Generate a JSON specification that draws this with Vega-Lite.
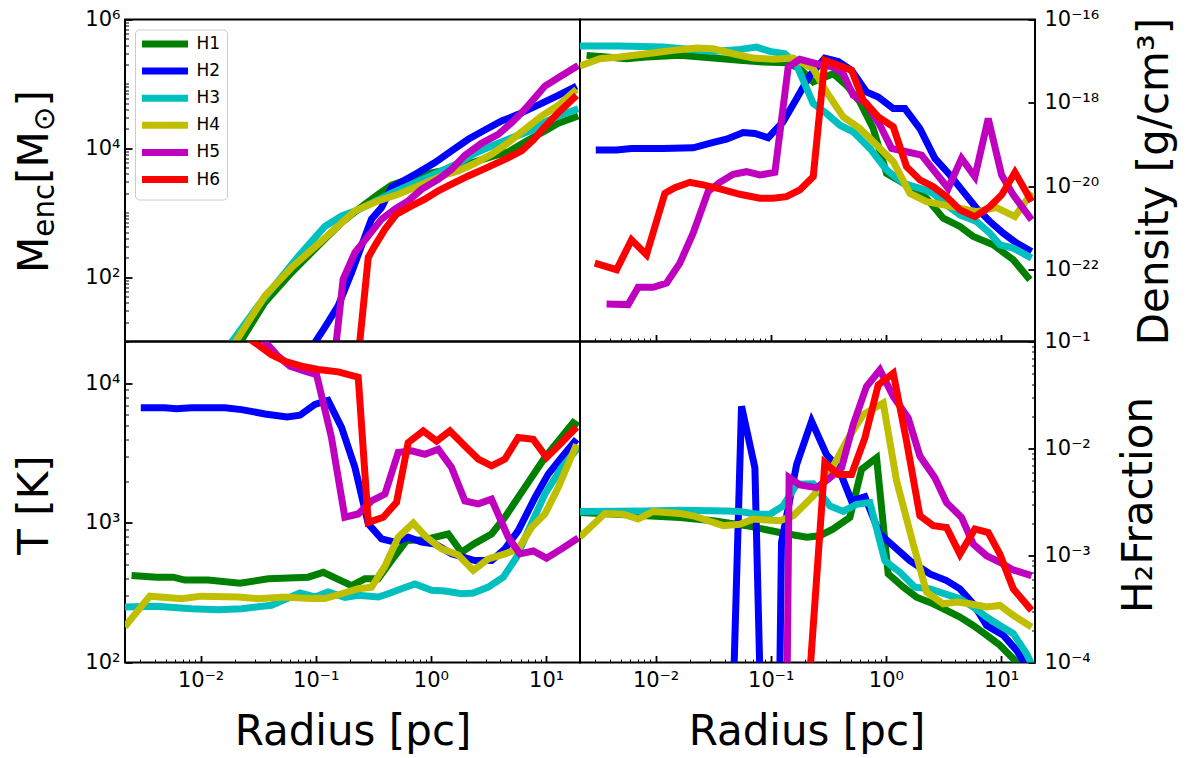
{
 "$schema": "https://vega.github.io/schema/vega-lite/v6.json",
 "background": "white",
 "padding": {"left": 11, "top": 7.5, "right": 5, "bottom": 2},
 "config": {
  "font": "DejaVu Sans",
  "view": {"stroke": "black", "strokeWidth": 2},
  "axis": {"domain": false, "grid": false, "labelFontSize": 21, "labelColor": "black", "titleFontSize": 42, "titleFontWeight": "normal", "titleColor": "black", "tickColor": "black", "zindex": 1, "labelFlush": false, "labelOverlap": false, "labelFont": "DejaVu Sans", "titleFont": "DejaVu Sans"},
  "line": {"strokeWidth": 7, "clip": true}
 },
 "datasets": {
  "menc": [
   {"h":"H1","r":0.0215,"v":9},{"h":"H1","r":0.0362,"v":40.5},{"h":"H1","r":0.0617,"v":118},{"h":"H1","r":0.105,"v":306},{"h":"H1","r":0.168,"v":704},{"h":"H1","r":0.234,"v":1133},{"h":"H1","r":0.349,"v":1935},{"h":"H1","r":0.455,"v":2670},{"h":"H1","r":0.635,"v":3303},{"h":"H1","r":0.887,"v":3953},{"h":"H1","r":1.239,"v":4454},{"h":"H1","r":1.727,"v":5322},{"h":"H1","r":2.41,"v":6140},{"h":"H1","r":3.36,"v":7427},{"h":"H1","r":4.69,"v":8770},{"h":"H1","r":7.0,"v":13460},{"h":"H1","r":9.77,"v":18570},{"h":"H1","r":12.76,"v":24430},{"h":"H1","r":19.0,"v":31720},
   {"h":"H2","r":0.096,"v":9},{"h":"H2","r":0.12,"v":16.6},{"h":"H2","r":0.157,"v":36},{"h":"H2","r":0.205,"v":118},{"h":"H2","r":0.25,"v":306},{"h":"H2","r":0.305,"v":793},{"h":"H2","r":0.373,"v":1202},{"h":"H2","r":0.455,"v":2455},{"h":"H2","r":0.776,"v":4198},{"h":"H2","r":1.084,"v":5998},{"h":"H2","r":1.511,"v":9095},{"h":"H2","r":2.11,"v":13800},{"h":"H2","r":2.94,"v":19250},{"h":"H2","r":4.11,"v":26530},{"h":"H2","r":5.73,"v":33650},{"h":"H2","r":9.14,"v":49860},{"h":"H2","r":12.76,"v":66370},{"h":"H2","r":18.4,"v":92500},
   {"h":"H3","r":0.018,"v":9},{"h":"H3","r":0.0317,"v":36},{"h":"H3","r":0.0705,"v":209},{"h":"H3","r":0.12,"v":611},{"h":"H3","r":0.168,"v":893},{"h":"H3","r":0.234,"v":1107},{"h":"H3","r":0.455,"v":2005},{"h":"H3","r":0.887,"v":3388},{"h":"H3","r":1.727,"v":5853},{"h":"H3","r":2.41,"v":8360},{"h":"H3","r":3.36,"v":10870},{"h":"H3","r":4.69,"v":13800},{"h":"H3","r":7.48,"v":19020},{"h":"H3","r":9.77,"v":25580},{"h":"H3","r":12.76,"v":31720},{"h":"H3","r":19.0,"v":41200},
   {"h":"H4","r":0.0195,"v":9},{"h":"H4","r":0.0362,"v":51},{"h":"H4","r":0.0617,"v":141},{"h":"H4","r":0.105,"v":325},{"h":"H4","r":0.157,"v":625},{"h":"H4","r":0.219,"v":1067},{"h":"H4","r":0.349,"v":1525},{"h":"H4","r":0.52,"v":1935},{"h":"H4","r":0.776,"v":2606},{"h":"H4","r":1.239,"v":3724},{"h":"H4","r":1.727,"v":4454},{"h":"H4","r":2.41,"v":5853},{"h":"H4","r":3.36,"v":8070},{"h":"H4","r":4.69,"v":12240},{"h":"H4","r":6.55,"v":19710},{"h":"H4","r":9.14,"v":31720},{"h":"H4","r":12.76,"v":46400},{"h":"H4","r":18.4,"v":82200},
   {"h":"H5","r":0.15,"v":9},{"h":"H5","r":0.173,"v":93},{"h":"H5","r":0.219,"v":241},{"h":"H5","r":0.286,"v":437},{"h":"H5","r":0.373,"v":793},{"h":"H5","r":0.487,"v":1133},{"h":"H5","r":0.635,"v":1525},{"h":"H5","r":0.83,"v":2312},{"h":"H5","r":1.159,"v":3303},{"h":"H5","r":1.511,"v":4721},{"h":"H5","r":1.973,"v":7786},{"h":"H5","r":2.754,"v":11960},{"h":"H5","r":3.844,"v":16480},{"h":"H5","r":5.02,"v":25000},{"h":"H5","r":6.55,"v":40260},{"h":"H5","r":9.77,"v":92500},{"h":"H5","r":12.76,"v":124700},{"h":"H5","r":19.0,"v":193600},
   {"h":"H6","r":0.24,"v":9},{"h":"H6","r":0.286,"v":202},{"h":"H6","r":0.326,"v":306},{"h":"H6","r":0.399,"v":555},{"h":"H6","r":0.503,"v":948},{"h":"H6","r":0.679,"v":1276},{"h":"H6","r":0.887,"v":1618},{"h":"H6","r":1.159,"v":2182},{"h":"H6","r":1.511,"v":2767},{"h":"H6","r":2.11,"v":3724},{"h":"H6","r":2.94,"v":4842},{"h":"H6","r":4.39,"v":6745},{"h":"H6","r":6.13,"v":9095},{"h":"H6","r":7.73,"v":13460},{"h":"H6","r":9.77,"v":21680},{"h":"H6","r":12.76,"v":35730},{"h":"H6","r":18.4,"v":66370}
  ],
  "dens": [
   {"h":"H1","r":0.00252,"v":1.38e-17},{"h":"H1","r":0.00376,"v":1.26e-17},{"h":"H1","r":0.0056,"v":1.15e-17},{"h":"H1","r":0.00835,"v":1.26e-17},{"h":"H1","r":0.01627,"v":1.38e-17},{"h":"H1","r":0.0317,"v":1.19e-17},{"h":"H1","r":0.054,"v":1.05e-17},{"h":"H1","r":0.0861,"v":9.55e-18},{"h":"H1","r":0.137,"v":9.2e-18},{"h":"H1","r":0.179,"v":6.62e-18},{"h":"H1","r":0.234,"v":3.18e-18},{"h":"H1","r":0.349,"v":5.03e-18},{"h":"H1","r":0.455,"v":2.64e-18},{"h":"H1","r":0.594,"v":1.06e-18},{"h":"H1","r":0.776,"v":2.43e-19},{"h":"H1","r":1.014,"v":2.05e-20},{"h":"H1","r":1.511,"v":1.08e-20},{"h":"H1","r":2.254,"v":5.17e-21},{"h":"H1","r":3.146,"v":1.72e-21},{"h":"H1","r":4.392,"v":1.09e-21},{"h":"H1","r":5.733,"v":6.26e-22},{"h":"H1","r":8.55,"v":3.96e-22},{"h":"H1","r":12.76,"v":1.73e-22},{"h":"H1","r":17.8,"v":5.77e-23},
   {"h":"H2","r":0.00303,"v":7.39e-20},{"h":"H2","r":0.00459,"v":7.39e-20},{"h":"H2","r":0.00619,"v":8.1e-20},{"h":"H2","r":0.01167,"v":8.1e-20},{"h":"H2","r":0.0212,"v":8.4e-20},{"h":"H2","r":0.0317,"v":1.13e-19},{"h":"H2","r":0.0413,"v":1.35e-19},{"h":"H2","r":0.0577,"v":1.95e-19},{"h":"H2","r":0.0729,"v":1.85e-19},{"h":"H2","r":0.0951,"v":1.46e-19},{"h":"H2","r":0.128,"v":3.51e-19},{"h":"H2","r":0.168,"v":1.27e-18},{"h":"H2","r":0.219,"v":4.58e-18},{"h":"H2","r":0.295,"v":1.19e-17},{"h":"H2","r":0.386,"v":9.9e-18},{"h":"H2","r":0.503,"v":6.04e-18},{"h":"H2","r":0.679,"v":1.83e-18},{"h":"H2","r":0.858,"v":1.39e-18},{"h":"H2","r":1.159,"v":7.32e-19},{"h":"H2","r":1.462,"v":7.32e-19},{"h":"H2","r":1.973,"v":2.43e-19},{"h":"H2","r":2.663,"v":4.67e-20},{"h":"H2","r":3.597,"v":1.87e-20},{"h":"H2","r":4.694,"v":7.46e-21},{"h":"H2","r":6.128,"v":2.98e-21},{"h":"H2","r":8.0,"v":1.43e-21},{"h":"H2","r":10.44,"v":7.52e-22},{"h":"H2","r":13.64,"v":4.34e-22},{"h":"H2","r":18.4,"v":2.74e-22},
   {"h":"H3","r":0.0022,"v":2.31e-17},{"h":"H3","r":0.0049,"v":2.31e-17},{"h":"H3","r":0.01167,"v":2.18e-17},{"h":"H3","r":0.0317,"v":1.72e-17},{"h":"H3","r":0.054,"v":1.92e-17},{"h":"H3","r":0.0753,"v":2.18e-17},{"h":"H3","r":0.0984,"v":1.72e-17},{"h":"H3","r":0.133,"v":1.51e-17},{"h":"H3","r":0.168,"v":7.95e-18},{"h":"H3","r":0.234,"v":9.64e-19},{"h":"H3","r":0.305,"v":5.56e-19},{"h":"H3","r":0.399,"v":2.92e-19},{"h":"H3","r":0.52,"v":2.03e-19},{"h":"H3","r":0.726,"v":8.1e-20},{"h":"H3","r":1.014,"v":2.46e-20},{"h":"H3","r":1.414,"v":1.18e-20},{"h":"H3","r":1.973,"v":8.96e-21},{"h":"H3","r":2.576,"v":6.81e-21},{"h":"H3","r":3.363,"v":3.58e-21},{"h":"H3","r":4.392,"v":2.06e-21},{"h":"H3","r":6.128,"v":1.43e-21},{"h":"H3","r":8.0,"v":7.52e-22},{"h":"H3","r":9.77,"v":3.96e-22},{"h":"H3","r":12.76,"v":3.3e-22},{"h":"H3","r":18.4,"v":1.9e-22},
   {"h":"H4","r":0.0022,"v":7.66e-18},{"h":"H4","r":0.00329,"v":1.15e-17},{"h":"H4","r":0.0049,"v":1.26e-17},{"h":"H4","r":0.00835,"v":1.51e-17},{"h":"H4","r":0.01424,"v":1.82e-17},{"h":"H4","r":0.0227,"v":2.07e-17},{"h":"H4","r":0.0317,"v":1.99e-17},{"h":"H4","r":0.0472,"v":1.51e-17},{"h":"H4","r":0.0705,"v":1.19e-17},{"h":"H4","r":0.105,"v":1.11e-17},{"h":"H4","r":0.157,"v":1.19e-17},{"h":"H4","r":0.234,"v":6.62e-18},{"h":"H4","r":0.305,"v":1.83e-18},{"h":"H4","r":0.426,"v":4.63e-19},{"h":"H4","r":0.594,"v":2.43e-19},{"h":"H4","r":0.83,"v":9.73e-20},{"h":"H4","r":1.159,"v":3.89e-20},{"h":"H4","r":1.615,"v":6.81e-21},{"h":"H4","r":2.254,"v":4.3e-21},{"h":"H4","r":3.146,"v":3.58e-21},{"h":"H4","r":4.392,"v":2.98e-21},{"h":"H4","r":6.128,"v":2.48e-21},{"h":"H4","r":9.14,"v":3.09e-21},{"h":"H4","r":13.19,"v":1.88e-21},{"h":"H4","r":18.53,"v":7.19e-21},
   {"h":"H5","r":0.00376,"v":1.51e-23},{"h":"H5","r":0.00579,"v":1.46e-23},{"h":"H5","r":0.00707,"v":3.78e-23},{"h":"H5","r":0.00955,"v":3.78e-23},{"h":"H5","r":0.01248,"v":4.8e-23},{"h":"H5","r":0.01627,"v":1.44e-22},{"h":"H5","r":0.0212,"v":7.52e-22},{"h":"H5","r":0.0286,"v":7.46e-21},{"h":"H5","r":0.0362,"v":1.25e-20},{"h":"H5","r":0.0472,"v":1.94e-20},{"h":"H5","r":0.0617,"v":2.24e-20},{"h":"H5","r":0.0805,"v":1.87e-20},{"h":"H5","r":0.1087,"v":2.16e-20},{"h":"H5","r":0.1419,"v":7.26e-18},{"h":"H5","r":0.179,"v":1.11e-17},{"h":"H5","r":0.25,"v":8.7e-18},{"h":"H5","r":0.349,"v":7.26e-18},{"h":"H5","r":0.426,"v":5.03e-18},{"h":"H5","r":0.52,"v":1.52e-18},{"h":"H5","r":0.679,"v":9.64e-19},{"h":"H5","r":0.887,"v":2.92e-19},{"h":"H5","r":1.12,"v":8.1e-20},{"h":"H5","r":1.511,"v":6.74e-20},{"h":"H5","r":2.04,"v":5.61e-20},{"h":"H5","r":2.663,"v":2.24e-20},{"h":"H5","r":3.476,"v":8.96e-21},{"h":"H5","r":4.54,"v":4.67e-20},{"h":"H5","r":5.925,"v":1.7e-20},{"h":"H5","r":7.734,"v":4.22e-19},{"h":"H5","r":10.1,"v":1.87e-20},{"h":"H5","r":12.76,"v":6.21e-21},{"h":"H5","r":18.4,"v":1.57e-21},
   {"h":"H6","r":0.00297,"v":1.44e-22},{"h":"H6","r":0.00459,"v":1.0e-22},{"h":"H6","r":0.00619,"v":5.21e-22},{"h":"H6","r":0.00835,"v":2.29e-22},{"h":"H6","r":0.01206,"v":6.81e-21},{"h":"H6","r":0.01472,"v":9.29e-21},{"h":"H6","r":0.01986,"v":1.25e-20},{"h":"H6","r":0.0259,"v":1.08e-20},{"h":"H6","r":0.0362,"v":8.64e-21},{"h":"H6","r":0.054,"v":6.44e-21},{"h":"H6","r":0.0805,"v":5.17e-21},{"h":"H6","r":0.105,"v":5.17e-21},{"h":"H6","r":0.137,"v":5.66e-21},{"h":"H6","r":0.179,"v":8.17e-21},{"h":"H6","r":0.234,"v":1.7e-20},{"h":"H6","r":0.295,"v":1.05e-17},{"h":"H6","r":0.386,"v":7.95e-18},{"h":"H6","r":0.503,"v":6.04e-18},{"h":"H6","r":0.635,"v":1.16e-18},{"h":"H6","r":0.858,"v":4.63e-19},{"h":"H6","r":1.159,"v":2.67e-19},{"h":"H6","r":1.511,"v":2.95e-20},{"h":"H6","r":1.973,"v":1.42e-20},{"h":"H6","r":2.576,"v":9.82e-21},{"h":"H6","r":3.363,"v":5.66e-21},{"h":"H6","r":4.392,"v":2.72e-21},{"h":"H6","r":5.925,"v":1.88e-21},{"h":"H6","r":8.0,"v":3.27e-21},{"h":"H6","r":10.1,"v":6.21e-21},{"h":"H6","r":13.19,"v":2.16e-20},{"h":"H6","r":18.4,"v":4.3e-21}
  ],
  "temp": [
   {"h":"H1","r":0.00252,"v":421},{"h":"H1","r":0.00415,"v":409},{"h":"H1","r":0.00579,"v":409},{"h":"H1","r":0.00731,"v":390},{"h":"H1","r":0.01167,"v":390},{"h":"H1","r":0.022,"v":370},{"h":"H1","r":0.0387,"v":398},{"h":"H1","r":0.0861,"v":409},{"h":"H1","r":0.1162,"v":443},{"h":"H1","r":0.205,"v":356},{"h":"H1","r":0.267,"v":398},{"h":"H1","r":0.349,"v":398},{"h":"H1","r":0.455,"v":538},{"h":"H1","r":0.615,"v":748},{"h":"H1","r":0.887,"v":760},{"h":"H1","r":1.414,"v":834},{"h":"H1","r":1.845,"v":617},{"h":"H1","r":2.41,"v":715},{"h":"H1","r":3.363,"v":834},{"h":"H1","r":4.392,"v":1100},{"h":"H1","r":6.549,"v":1800},{"h":"H1","r":9.772,"v":2950},{"h":"H1","r":17.2,"v":5240},{"h":"H1","r":19.0,"v":4960},
   {"h":"H2","r":0.00303,"v":6700},{"h":"H2","r":0.0049,"v":6700},{"h":"H2","r":0.00619,"v":6600},{"h":"H2","r":0.00835,"v":6700},{"h":"H2","r":0.01627,"v":6700},{"h":"H2","r":0.0227,"v":6500},{"h":"H2","r":0.0362,"v":6050},{"h":"H2","r":0.0565,"v":5750},{"h":"H2","r":0.0729,"v":5920},{"h":"H2","r":0.0984,"v":7080},{"h":"H2","r":0.128,"v":7560},{"h":"H2","r":0.168,"v":4820},{"h":"H2","r":0.219,"v":2500},{"h":"H2","r":0.286,"v":985},{"h":"H2","r":0.373,"v":770},{"h":"H2","r":0.487,"v":730},{"h":"H2","r":0.635,"v":790},{"h":"H2","r":0.83,"v":730},{"h":"H2","r":1.084,"v":708},{"h":"H2","r":1.511,"v":601},{"h":"H2","r":2.41,"v":538},{"h":"H2","r":3.363,"v":538},{"h":"H2","r":4.392,"v":652},{"h":"H2","r":5.733,"v":881},{"h":"H2","r":8.0,"v":1520},{"h":"H2","r":10.44,"v":2240},{"h":"H2","r":13.64,"v":2950},{"h":"H2","r":18.4,"v":3980},
   {"h":"H3","r":0.0022,"v":250},{"h":"H3","r":0.00415,"v":253},{"h":"H3","r":0.00835,"v":243},{"h":"H3","r":0.01424,"v":239},{"h":"H3","r":0.0227,"v":243},{"h":"H3","r":0.0413,"v":257},{"h":"H3","r":0.0729,"v":315},{"h":"H3","r":0.0984,"v":295},{"h":"H3","r":0.128,"v":320},{"h":"H3","r":0.179,"v":293},{"h":"H3","r":0.234,"v":303},{"h":"H3","r":0.349,"v":295},{"h":"H3","r":0.426,"v":311},{"h":"H3","r":0.556,"v":338},{"h":"H3","r":0.726,"v":366},{"h":"H3","r":1.014,"v":329},{"h":"H3","r":1.325,"v":325},{"h":"H3","r":1.845,"v":311},{"h":"H3","r":2.332,"v":315},{"h":"H3","r":3.146,"v":347},{"h":"H3","r":4.247,"v":409},{"h":"H3","r":5.546,"v":568},{"h":"H3","r":7.0,"v":881},{"h":"H3","r":9.77,"v":1610},{"h":"H3","r":13.64,"v":2500},{"h":"H3","r":19.02,"v":3470},
   {"h":"H4","r":0.0022,"v":180},{"h":"H4","r":0.00363,"v":299},{"h":"H4","r":0.00684,"v":287},{"h":"H4","r":0.0102,"v":299},{"h":"H4","r":0.0212,"v":295},{"h":"H4","r":0.0317,"v":287},{"h":"H4","r":0.054,"v":295},{"h":"H4","r":0.092,"v":287},{"h":"H4","r":0.12,"v":287},{"h":"H4","r":0.168,"v":311},{"h":"H4","r":0.234,"v":338},{"h":"H4","r":0.305,"v":347},{"h":"H4","r":0.399,"v":490},{"h":"H4","r":0.52,"v":790},{"h":"H4","r":0.703,"v":1000},{"h":"H4","r":0.916,"v":790},{"h":"H4","r":1.239,"v":652},{"h":"H4","r":1.727,"v":590},{"h":"H4","r":2.332,"v":457},{"h":"H4","r":3.146,"v":553},{"h":"H4","r":4.392,"v":601},{"h":"H4","r":5.733,"v":652},{"h":"H4","r":7.48,"v":931},{"h":"H4","r":9.77,"v":1160},{"h":"H4","r":12.76,"v":1800},{"h":"H4","r":18.4,"v":3660},
   {"h":"H5","r":0.0317,"v":23000},{"h":"H5","r":0.0362,"v":20050},{"h":"H5","r":0.0472,"v":15680},{"h":"H5","r":0.0597,"v":13300},{"h":"H5","r":0.0805,"v":12250},{"h":"H5","r":0.1016,"v":11590},{"h":"H5","r":0.137,"v":4100},{"h":"H5","r":0.179,"v":1100},{"h":"H5","r":0.234,"v":1160},{"h":"H5","r":0.305,"v":1440},{"h":"H5","r":0.399,"v":1610},{"h":"H5","r":0.52,"v":3200},{"h":"H5","r":0.679,"v":3290},{"h":"H5","r":0.887,"v":3110},{"h":"H5","r":1.159,"v":3380},{"h":"H5","r":1.511,"v":2500},{"h":"H5","r":1.973,"v":1440},{"h":"H5","r":2.576,"v":1370},{"h":"H5","r":3.363,"v":1480},{"h":"H5","r":4.694,"v":790},{"h":"H5","r":5.925,"v":601},{"h":"H5","r":7.734,"v":630},{"h":"H5","r":10.1,"v":560},{"h":"H5","r":13.64,"v":652},{"h":"H5","r":19.02,"v":782},
   {"h":"H6","r":0.0227,"v":22950},{"h":"H6","r":0.0286,"v":20050},{"h":"H6","r":0.0413,"v":16100},{"h":"H6","r":0.054,"v":14440},{"h":"H6","r":0.0753,"v":13300},{"h":"H6","r":0.105,"v":12590},{"h":"H6","r":0.157,"v":12120},{"h":"H6","r":0.234,"v":11100},{"h":"H6","r":0.286,"v":1010},{"h":"H6","r":0.386,"v":1100},{"h":"H6","r":0.503,"v":1406},{"h":"H6","r":0.635,"v":3770},{"h":"H6","r":0.858,"v":4570},{"h":"H6","r":1.12,"v":3870},{"h":"H6","r":1.462,"v":4570},{"h":"H6","r":1.973,"v":3560},{"h":"H6","r":2.576,"v":2870},{"h":"H6","r":3.363,"v":2570},{"h":"H6","r":4.392,"v":2870},{"h":"H6","r":5.733,"v":4100},{"h":"H6","r":7.734,"v":3980},{"h":"H6","r":10.1,"v":2950},{"h":"H6","r":13.19,"v":3660},{"h":"H6","r":18.4,"v":4880}
  ],
  "h2f": [
   {"h":"H1","r":0.0022,"v":0.00252},{"h":"H1","r":0.00835,"v":0.00235},{"h":"H1","r":0.01627,"v":0.00227},{"h":"H1","r":0.0317,"v":0.00211},{"h":"H1","r":0.0617,"v":0.0019},{"h":"H1","r":0.12,"v":0.00164},{"h":"H1","r":0.205,"v":0.00148},{"h":"H1","r":0.267,"v":0.00153},{"h":"H1","r":0.349,"v":0.00177},{"h":"H1","r":0.487,"v":0.00227},{"h":"H1","r":0.615,"v":0.00638},{"h":"H1","r":0.83,"v":0.00819},{"h":"H1","r":1.047,"v":0.000673},{"h":"H1","r":1.414,"v":0.000506},{"h":"H1","r":1.845,"v":0.000408},{"h":"H1","r":2.576,"v":0.000354},{"h":"H1","r":3.363,"v":0.000307},{"h":"H1","r":4.392,"v":0.000266},{"h":"H1","r":5.733,"v":0.000222},{"h":"H1","r":7.48,"v":0.00018},{"h":"H1","r":9.77,"v":0.000145},{"h":"H1","r":12.76,"v":0.000108},{"h":"H1","r":14.59,"v":0.00009},{"h":"H1","r":16,"v":0.00007},
   {"h":"H2","r":0.0479,"v":0.00008},{"h":"H2","r":0.0558,"v":0.0248},{"h":"H2","r":0.0729,"v":0.00661},{"h":"H2","r":0.0805,"v":0.00008},{"h":"H2","r":0.12,"v":0.00008},{"h":"H2","r":0.1241,"v":0.00133},{"h":"H2","r":0.168,"v":0.0071},{"h":"H2","r":0.2263,"v":0.018},{"h":"H2","r":0.305,"v":0.00879},{"h":"H2","r":0.386,"v":0.00661},{"h":"H2","r":0.503,"v":0.00324},{"h":"H2","r":0.657,"v":0.00353},{"h":"H2","r":0.887,"v":0.00158},{"h":"H2","r":1.159,"v":0.00123},{"h":"H2","r":1.615,"v":0.000895},{"h":"H2","r":2.41,"v":0.000673},{"h":"H2","r":3.363,"v":0.000583},{"h":"H2","r":4.392,"v":0.000488},{"h":"H2","r":5.733,"v":0.000354},{"h":"H2","r":7.48,"v":0.000222},{"h":"H2","r":10.44,"v":0.00018},{"h":"H2","r":13.64,"v":0.00013},{"h":"H2","r":17.8,"v":0.00008},
   {"h":"H3","r":0.0022,"v":0.00258},{"h":"H3","r":0.00835,"v":0.00261},{"h":"H3","r":0.01627,"v":0.00265},{"h":"H3","r":0.0413,"v":0.00261},{"h":"H3","r":0.054,"v":0.00258},{"h":"H3","r":0.0753,"v":0.00243},{"h":"H3","r":0.0984,"v":0.00243},{"h":"H3","r":0.128,"v":0.00291},{"h":"H3","r":0.168,"v":0.00463},{"h":"H3","r":0.234,"v":0.00467},{"h":"H3","r":0.326,"v":0.00291},{"h":"H3","r":0.426,"v":0.00258},{"h":"H3","r":0.556,"v":0.00301},{"h":"H3","r":0.726,"v":0.00312},{"h":"H3","r":0.98,"v":0.000895},{"h":"H3","r":1.325,"v":0.000697},{"h":"H3","r":1.787,"v":0.000506},{"h":"H3","r":2.41,"v":0.000488},{"h":"H3","r":3.252,"v":0.000438},{"h":"H3","r":4.392,"v":0.000394},{"h":"H3","r":5.733,"v":0.00033},{"h":"H3","r":7.48,"v":0.000266},{"h":"H3","r":9.77,"v":0.000222},{"h":"H3","r":12.76,"v":0.000186},{"h":"H3","r":16.65,"v":0.000121},{"h":"H3","r":19.0,"v":0.00009},
   {"h":"H4","r":0.0022,"v":0.00148},{"h":"H4","r":0.00363,"v":0.00247},{"h":"H4","r":0.00524,"v":0.00243},{"h":"H4","r":0.00707,"v":0.00219},{"h":"H4","r":0.00955,"v":0.00258},{"h":"H4","r":0.01627,"v":0.00247},{"h":"H4","r":0.0212,"v":0.00235},{"h":"H4","r":0.0387,"v":0.0019},{"h":"H4","r":0.054,"v":0.00196},{"h":"H4","r":0.0705,"v":0.00219},{"h":"H4","r":0.12,"v":0.00211},{"h":"H4","r":0.157,"v":0.00235},{"h":"H4","r":0.234,"v":0.0036},{"h":"H4","r":0.326,"v":0.00594},{"h":"H4","r":0.455,"v":0.0117},{"h":"H4","r":0.635,"v":0.0207},{"h":"H4","r":0.948,"v":0.0266},{"h":"H4","r":1.239,"v":0.00497},{"h":"H4","r":1.727,"v":0.00128},{"h":"H4","r":2.254,"v":0.000454},{"h":"H4","r":3.146,"v":0.000354},{"h":"H4","r":4.109,"v":0.000367},{"h":"H4","r":5.36,"v":0.000354},{"h":"H4","r":7.48,"v":0.00033},{"h":"H4","r":9.77,"v":0.000341},{"h":"H4","r":12.76,"v":0.000276},{"h":"H4","r":18.4,"v":0.000215},
   {"h":"H5","r":0.139,"v":0.00008},{"h":"H5","r":0.1445,"v":0.00534},{"h":"H5","r":0.179,"v":0.00456},{"h":"H5","r":0.25,"v":0.00431},{"h":"H5","r":0.3155,"v":0.00515},{"h":"H5","r":0.4122,"v":0.00661},{"h":"H5","r":0.52,"v":0.0167},{"h":"H5","r":0.679,"v":0.038},{"h":"H5","r":0.887,"v":0.0543},{"h":"H5","r":1.159,"v":0.0307},{"h":"H5","r":1.563,"v":0.0193},{"h":"H5","r":1.973,"v":0.00849},{"h":"H5","r":2.663,"v":0.00534},{"h":"H5","r":3.363,"v":0.00312},{"h":"H5","r":4.54,"v":0.00227},{"h":"H5","r":5.733,"v":0.00128},{"h":"H5","r":7.48,"v":0.000995},{"h":"H5","r":9.77,"v":0.000864},{"h":"H5","r":12.76,"v":0.000733},{"h":"H5","r":18.4,"v":0.000649},
   {"h":"H6","r":0.219,"v":0.00008},{"h":"H6","r":0.295,"v":0.00736},{"h":"H6","r":0.386,"v":0.00573},{"h":"H6","r":0.503,"v":0.00573},{"h":"H6","r":0.657,"v":0.01256},{"h":"H6","r":0.858,"v":0.0393},{"h":"H6","r":1.159,"v":0.0506},{"h":"H6","r":1.511,"v":0.0117},{"h":"H6","r":1.973,"v":0.00235},{"h":"H6","r":2.576,"v":0.0019},{"h":"H6","r":3.363,"v":0.00183},{"h":"H6","r":4.392,"v":0.00103},{"h":"H6","r":5.925,"v":0.00177},{"h":"H6","r":7.734,"v":0.00164},{"h":"H6","r":9.77,"v":0.00103},{"h":"H6","r":12.76,"v":0.000488},{"h":"H6","r":18.4,"v":0.000307}
  ]
 },
 "columns": 2,
 "spacing": 0,
 "bounds": "flush",
 "resolve": {"scale": {"color": "independent"}, "legend": {"color": "independent"}},
 "concat": [
  {
   "width": 455, "height": 322,
   "resolve": {"axis": {"y": "independent"}},
   "layer": [
    {
     "data": {"name": "menc"},
     "mark": {"type": "line", "clip": true, "strokeWidth": 7},
     "encoding": {
      "x": {"field": "r", "type": "quantitative", "scale": {"type": "log", "domain": [0.00221, 19.7], "nice": false},
       "axis": {"orient": "bottom", "title": null, "values": [0.003,0.004,0.005,0.006,0.007,0.008,0.009,0.01,0.02,0.03,0.04,0.05,0.06,0.07,0.08,0.09,0.1,0.2,0.3,0.4,0.5,0.6,0.7,0.8,0.9,1,2,3,4,5,6,7,8,9,10], "labels": false,
        "tickSize": {"condition": {"test": "abs(log(datum.value)/LN10 - round(log(datum.value)/LN10)) < 0.01", "value": -7}, "value": -3.5},
        "tickWidth": {"condition": {"test": "abs(log(datum.value)/LN10 - round(log(datum.value)/LN10)) < 0.01", "value": 1.8}, "value": 1}}},
      "y": {"field": "v", "type": "quantitative", "scale": {"type": "log", "domain": [10, 1000000], "nice": false},
       "axis": {"orient": "left", "title": null, "labelPadding": 12,
        "values": [10,20,30,40,50,60,70,80,90,100,200,300,400,500,600,700,800,900,1000,2000,3000,4000,5000,6000,7000,8000,9000,10000,20000,30000,40000,50000,60000,70000,80000,90000,100000,200000,300000,400000,500000,600000,700000,800000,900000,1000000],
        "labelExpr": "(abs(log(datum.value)/LN10 - round(log(datum.value)/LN10)) < 0.01 && round(log(datum.value)/LN10) % 2 == 0) ? '10' + substring('⁰¹²³⁴⁵⁶⁷⁸⁹', abs(round(log(datum.value)/LN10)) % 10, abs(round(log(datum.value)/LN10)) % 10 + 1) : ''",
        "tickSize": {"condition": {"test": "abs(log(datum.value)/LN10 - round(log(datum.value)/LN10)) < 0.01 && round(log(datum.value)/LN10) % 2 == 0", "value": -7}, "value": -3.5},
        "tickWidth": {"condition": {"test": "abs(log(datum.value)/LN10 - round(log(datum.value)/LN10)) < 0.01 && round(log(datum.value)/LN10) % 2 == 0", "value": 1.8}, "value": 1}}},
      "color": {"field": "h", "type": "nominal", "scale": {"domain": ["H1","H2","H3","H4","H5","H6"], "range": ["#008000","#0000ff","#00bfbf","#bfbf00","#bf00bf","#ff0000"]},
       "legend": {"orient": "top-left", "offset": 10, "title": null, "strokeColor": "#cccccc", "fillColor": "white", "cornerRadius": 4, "padding": 6, "labelFontSize": 17, "labelFont": "DejaVu Sans", "labelColor": "black", "symbolType": "M-7.667,0H7.667", "symbolSize": 36, "symbolStrokeWidth": 8, "symbolOffset": 15.5, "labelOffset": 23, "rowPadding": -1.9}}
     }
    },
    {
     "data": {"name": "menc"}, "transform": [{"filter": "false"}], "mark": {"type": "line"},
     "encoding": {
      "x": {"field": "r", "type": "quantitative", "scale": {"type": "log", "domain": [0.00221, 19.7], "nice": false}, "axis": null},
      "y": {"field": "v", "type": "quantitative", "scale": {"type": "log", "domain": [10, 1000000], "nice": false},
       "axis": {"orient": "left", "title": "M", "labels": false, "ticks": false, "domain": false, "titleX": -78, "titleY": 252.9, "titleAngle": 270, "titleAlign": "left", "titleBaseline": "alphabetic", "titleFontSize": 42}}
     }
    },
    {
     "data": {"name": "menc"}, "transform": [{"filter": "false"}], "mark": {"type": "line"},
     "encoding": {
      "x": {"field": "r", "type": "quantitative", "scale": {"type": "log", "domain": [0.00221, 19.7], "nice": false}, "axis": null},
      "y": {"field": "v", "type": "quantitative", "scale": {"type": "log", "domain": [10, 1000000], "nice": false},
       "axis": {"orient": "left", "title": "enc", "labels": false, "ticks": false, "domain": false, "titleX": -72, "titleY": 216.7, "titleAngle": 270, "titleAlign": "left", "titleBaseline": "alphabetic", "titleFontSize": 29.4}}
     }
    },
    {
     "data": {"name": "menc"}, "transform": [{"filter": "false"}], "mark": {"type": "line"},
     "encoding": {
      "x": {"field": "r", "type": "quantitative", "scale": {"type": "log", "domain": [0.00221, 19.7], "nice": false}, "axis": null},
      "y": {"field": "v", "type": "quantitative", "scale": {"type": "log", "domain": [10, 1000000], "nice": false},
       "axis": {"orient": "left", "title": "[M", "labels": false, "ticks": false, "domain": false, "titleX": -78, "titleY": 163.8, "titleAngle": 270, "titleAlign": "left", "titleBaseline": "alphabetic", "titleFontSize": 42}}
     }
    },
    {
     "data": {"name": "menc"}, "transform": [{"filter": "false"}], "mark": {"type": "line"},
     "encoding": {
      "x": {"field": "r", "type": "quantitative", "scale": {"type": "log", "domain": [0.00221, 19.7], "nice": false}, "axis": null},
      "y": {"field": "v", "type": "quantitative", "scale": {"type": "log", "domain": [10, 1000000], "nice": false},
       "axis": {"orient": "left", "title": "⊙", "labels": false, "ticks": false, "domain": false, "titleX": -72, "titleY": 111.2, "titleAngle": 270, "titleAlign": "left", "titleBaseline": "alphabetic", "titleFontSize": 29.4}}
     }
    },
    {
     "data": {"name": "menc"}, "transform": [{"filter": "false"}], "mark": {"type": "line"},
     "encoding": {
      "x": {"field": "r", "type": "quantitative", "scale": {"type": "log", "domain": [0.00221, 19.7], "nice": false}, "axis": null},
      "y": {"field": "v", "type": "quantitative", "scale": {"type": "log", "domain": [10, 1000000], "nice": false},
       "axis": {"orient": "left", "title": "]", "labels": false, "ticks": false, "domain": false, "titleX": -78, "titleY": 86.6, "titleAngle": 270, "titleAlign": "left", "titleBaseline": "alphabetic", "titleFontSize": 42}}
     }
    }
   ]
  },
  {
   "width": 455, "height": 322,
   "data": {"name": "dens"},
   "mark": {"type": "line", "clip": true, "strokeWidth": 7},
   "encoding": {
    "x": {"field": "r", "type": "quantitative", "scale": {"type": "log", "domain": [0.00221, 19.7], "nice": false},
     "axis": {"orient": "bottom", "title": null, "values": [0.003,0.004,0.005,0.006,0.007,0.008,0.009,0.01,0.02,0.03,0.04,0.05,0.06,0.07,0.08,0.09,0.1,0.2,0.3,0.4,0.5,0.6,0.7,0.8,0.9,1,2,3,4,5,6,7,8,9,10], "labels": false,
      "tickSize": {"condition": {"test": "abs(log(datum.value)/LN10 - round(log(datum.value)/LN10)) < 0.01", "value": -7}, "value": -3.5},
      "tickWidth": {"condition": {"test": "abs(log(datum.value)/LN10 - round(log(datum.value)/LN10)) < 0.01", "value": 1.8}, "value": 1}}},
    "y": {"field": "v", "type": "quantitative", "scale": {"type": "log", "domain": [1.9e-24, 1e-16], "nice": false},
     "axis": {"orient": "right", "title": "Density [g/cm³]", "titleAngle": 270, "titleX": 132.6, "titleY": 161.5, "titleAlign": "center", "titleBaseline": "alphabetic", "labelPadding": 16, "values": [1e-22,1e-20,1e-18,1e-16],
      "labelExpr": "'10' + (round(log(datum.value)/LN10) < 0 ? '⁻' : '') + (abs(round(log(datum.value)/LN10)) >= 10 ? substring('⁰¹²³⁴⁵⁶⁷⁸⁹', floor(abs(round(log(datum.value)/LN10))/10), floor(abs(round(log(datum.value)/LN10))/10) + 1) : '') + substring('⁰¹²³⁴⁵⁶⁷⁸⁹', abs(round(log(datum.value)/LN10)) % 10, abs(round(log(datum.value)/LN10)) % 10 + 1)",
      "tickSize": -7, "tickWidth": 1.8}},
    "color": {"field": "h", "type": "nominal", "scale": {"domain": ["H1","H2","H3","H4","H5","H6"], "range": ["#008000","#0000ff","#00bfbf","#bfbf00","#bf00bf","#ff0000"]}, "legend": null}
   }
  },
  {
   "width": 455, "height": 321,
   "data": {"name": "temp"},
   "mark": {"type": "line", "clip": true, "strokeWidth": 7},
   "encoding": {
    "x": {"field": "r", "type": "quantitative", "scale": {"type": "log", "domain": [0.00221, 19.7], "nice": false},
     "axis": {"orient": "bottom", "title": "Radius [pc]", "titleX": 227.5, "titleY": 82, "titleAlign": "center", "titleBaseline": "alphabetic", "labelPadding": 14, "values": [0.003,0.004,0.005,0.006,0.007,0.008,0.009,0.01,0.02,0.03,0.04,0.05,0.06,0.07,0.08,0.09,0.1,0.2,0.3,0.4,0.5,0.6,0.7,0.8,0.9,1,2,3,4,5,6,7,8,9,10],
      "labelExpr": "abs(log(datum.value)/LN10 - round(log(datum.value)/LN10)) < 0.01 ? '10' + (round(log(datum.value)/LN10) < 0 ? '⁻' : '') + substring('⁰¹²³⁴⁵⁶⁷⁸⁹', abs(round(log(datum.value)/LN10)) % 10, abs(round(log(datum.value)/LN10)) % 10 + 1) : ''",
      "tickSize": {"condition": {"test": "abs(log(datum.value)/LN10 - round(log(datum.value)/LN10)) < 0.01", "value": -7}, "value": -3.5},
      "tickWidth": {"condition": {"test": "abs(log(datum.value)/LN10 - round(log(datum.value)/LN10)) < 0.01", "value": 1.8}, "value": 1}}},
    "y": {"field": "v", "type": "quantitative", "scale": {"type": "log", "domain": [100, 20000], "nice": false},
     "axis": {"orient": "left", "title": "T [K]", "titleX": -78, "titleY": 163, "titleAngle": 270, "titleAlign": "center", "titleBaseline": "alphabetic", "labelPadding": 12,
      "values": [100,200,300,400,500,600,700,800,900,1000,2000,3000,4000,5000,6000,7000,8000,9000,10000,20000],
      "labelExpr": "abs(log(datum.value)/LN10 - round(log(datum.value)/LN10)) < 0.01 ? '10' + substring('⁰¹²³⁴⁵⁶⁷⁸⁹', abs(round(log(datum.value)/LN10)) % 10, abs(round(log(datum.value)/LN10)) % 10 + 1) : ''",
      "tickSize": {"condition": {"test": "abs(log(datum.value)/LN10 - round(log(datum.value)/LN10)) < 0.01", "value": -7}, "value": -3.5},
      "tickWidth": {"condition": {"test": "abs(log(datum.value)/LN10 - round(log(datum.value)/LN10)) < 0.01", "value": 1.8}, "value": 1}}},
    "color": {"field": "h", "type": "nominal", "scale": {"domain": ["H1","H2","H3","H4","H5","H6"], "range": ["#008000","#0000ff","#00bfbf","#bfbf00","#bf00bf","#ff0000"]}, "legend": null}
   }
  },
  {
   "width": 455, "height": 321,
   "data": {"name": "h2f"},
   "mark": {"type": "line", "clip": true, "strokeWidth": 7},
   "encoding": {
    "x": {"field": "r", "type": "quantitative", "scale": {"type": "log", "domain": [0.00221, 19.7], "nice": false},
     "axis": {"orient": "bottom", "title": "Radius [pc]", "titleX": 226.5, "titleY": 82, "titleAlign": "center", "titleBaseline": "alphabetic", "labelPadding": 14, "values": [0.003,0.004,0.005,0.006,0.007,0.008,0.009,0.01,0.02,0.03,0.04,0.05,0.06,0.07,0.08,0.09,0.1,0.2,0.3,0.4,0.5,0.6,0.7,0.8,0.9,1,2,3,4,5,6,7,8,9,10],
      "labelExpr": "abs(log(datum.value)/LN10 - round(log(datum.value)/LN10)) < 0.01 ? '10' + (round(log(datum.value)/LN10) < 0 ? '⁻' : '') + substring('⁰¹²³⁴⁵⁶⁷⁸⁹', abs(round(log(datum.value)/LN10)) % 10, abs(round(log(datum.value)/LN10)) % 10 + 1) : ''",
      "tickSize": {"condition": {"test": "abs(log(datum.value)/LN10 - round(log(datum.value)/LN10)) < 0.01", "value": -7}, "value": -3.5},
      "tickWidth": {"condition": {"test": "abs(log(datum.value)/LN10 - round(log(datum.value)/LN10)) < 0.01", "value": 1.8}, "value": 1}}},
    "y": {"field": "v", "type": "quantitative", "scale": {"type": "log", "domain": [0.0001, 0.1], "nice": false},
     "axis": {"orient": "right", "title": "H₂Fraction", "titleAngle": 270, "titleX": 116, "titleY": 163, "titleAlign": "center", "titleBaseline": "alphabetic", "labelPadding": 16,
      "values": [0.0001,0.0002,0.0003,0.0004,0.0005,0.0006,0.0007,0.0008,0.0009,0.001,0.002,0.003,0.004,0.005,0.006,0.007,0.008,0.009,0.01,0.02,0.03,0.04,0.05,0.06,0.07,0.08,0.09,0.1],
      "labelExpr": "abs(log(datum.value)/LN10 - round(log(datum.value)/LN10)) < 0.01 ? '10' + (round(log(datum.value)/LN10) < 0 ? '⁻' : '') + substring('⁰¹²³⁴⁵⁶⁷⁸⁹', abs(round(log(datum.value)/LN10)) % 10, abs(round(log(datum.value)/LN10)) % 10 + 1) : ''",
      "tickSize": {"condition": {"test": "abs(log(datum.value)/LN10 - round(log(datum.value)/LN10)) < 0.01", "value": -7}, "value": -3.5},
      "tickWidth": {"condition": {"test": "abs(log(datum.value)/LN10 - round(log(datum.value)/LN10)) < 0.01", "value": 1.8}, "value": 1}}},
    "color": {"field": "h", "type": "nominal", "scale": {"domain": ["H1","H2","H3","H4","H5","H6"], "range": ["#008000","#0000ff","#00bfbf","#bfbf00","#bf00bf","#ff0000"]}, "legend": null}
   }
  }
 ]
}
